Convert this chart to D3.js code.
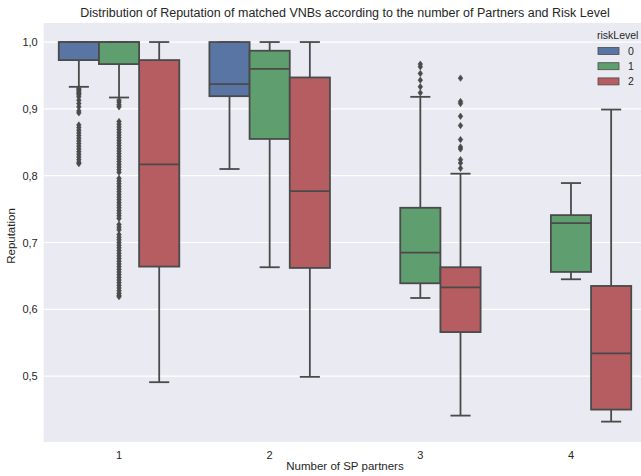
<!DOCTYPE html>
<html>
<head>
<meta charset="utf-8">
<script src="https://cdn.jsdelivr.net/npm/d3@7/dist/d3.min.js"></script>
<style>
  html, body { margin: 0; padding: 0; background: #ffffff; }
  svg { display: block; font-family: "Liberation Sans", Arial, sans-serif; }
</style>
</head>
<body>
<div id="chart"></div>
<script>
// ---------------- DATA ----------------
const categories = ["1", "2", "3", "4"];
const riskLevels = ["0", "1", "2"];
const riskColors = ["#5875a4", "#5f9e6e", "#b55d60"];
const yTicks = [0.5, 0.6, 0.7, 0.8, 0.9, 1.0];
const yTickLabels = ["0,5", "0,6", "0,7", "0,8", "0,9", "1,0"];

// box statistics per category (rows) and risk level (columns); null = no data
const whiskerLow  = [[0.933, 0.917, 0.491], [0.810, 0.663, 0.499], [null, 0.617, 0.441], [null, 0.645, 0.432]];
const q1          = [[0.973, 0.967, 0.664], [0.919, 0.855, 0.662], [null, 0.639, 0.566], [null, 0.656, 0.450]];
const medians     = [[1.000, 1.000, 0.817], [0.937, 0.960, 0.777], [null, 0.685, 0.633], [null, 0.729, 0.534]];
const q3          = [[1.000, 1.000, 0.973], [1.000, 0.987, 0.947], [null, 0.752, 0.663], [null, 0.741, 0.635]];
const whiskerHigh = [[1.000, 1.000, 1.000], [1.000, 1.000, 1.000], [null, 0.918, 0.803], [null, 0.789, 0.899]];

// outliers per (category, riskLevel)
const outliers1_0 = [0.931, 0.929, 0.927, 0.925, 0.923, 0.921, 0.918, 0.913, 0.908, 0.903, 0.897, 0.894,
  0.876, 0.872, 0.868, 0.864, 0.860, 0.856, 0.852, 0.848, 0.844, 0.840, 0.836, 0.832, 0.828, 0.824, 0.820, 0.818];
const outliers1_1 = [0.913, 0.910, 0.906, 0.903,
  0.881, 0.877, 0.873, 0.869, 0.865, 0.861, 0.857, 0.853, 0.849, 0.845, 0.841, 0.837, 0.833, 0.829, 0.825,
  0.821, 0.817, 0.813, 0.809, 0.805, 0.796, 0.792, 0.788, 0.784, 0.780, 0.776, 0.772, 0.768, 0.764, 0.760,
  0.756, 0.752, 0.748, 0.744, 0.740, 0.736, 0.727, 0.723, 0.719, 0.712, 0.708, 0.704, 0.700, 0.696, 0.692,
  0.688, 0.684, 0.680, 0.676, 0.672, 0.668, 0.664, 0.660, 0.656, 0.652, 0.648, 0.644, 0.640, 0.636, 0.632,
  0.628, 0.624, 0.621, 0.619];
const outliers3_1 = [0.924, 0.933, 0.943, 0.953, 0.963, 0.967];
const outliers3_2 = [0.946, 0.911, 0.908, 0.889, 0.875, 0.854, 0.843, 0.840, 0.824, 0.819, 0.811];
const outlierGroups = [
  ["1", 0, outliers1_0],
  ["1", 1, outliers1_1],
  ["3", 1, outliers3_1],
  ["3", 2, outliers3_2]
];

// ---------------- LAYOUT ----------------
const W = 641, H = 476;
const plot = { left: 43.7, right: 646.3, top: 23, bottom: 442 };
const lineColor = "#4a4a4a";
const textColor = "#262626";

const svg = d3.select("#chart").append("svg").attr("width", W).attr("height", H);

const x = d3.scaleBand().domain(categories).range([plot.left, plot.right]).paddingInner(0).paddingOuter(0);
const y = d3.scaleLinear().domain([0.4015, 1.0285]).range([plot.bottom, plot.top]);
const hueW = x.bandwidth() * 0.8 / riskLevels.length;
const hx = (ci, hi) => x(categories[ci]) + x.bandwidth() / 2 + (hi - (riskLevels.length - 1) / 2) * hueW;

// background
svg.append("rect").attr("x", plot.left).attr("y", plot.top)
  .attr("width", plot.right - plot.left).attr("height", plot.bottom - plot.top)
  .attr("fill", "#eaeaf2");

// gridlines
svg.append("g").selectAll("line").data(yTicks).join("line")
  .attr("x1", plot.left).attr("x2", plot.right)
  .attr("y1", d => y(d)).attr("y2", d => y(d))
  .attr("stroke", "#ffffff").attr("stroke-width", 1.2);

// axes
const yAxis = d3.axisLeft(y).tickValues(yTicks).tickFormat((d, i) => yTickLabels[i]).tickSize(0).tickPadding(6);
const gy = svg.append("g").attr("transform", `translate(${plot.left},0)`).call(yAxis);
gy.select(".domain").remove();
gy.selectAll("text").attr("fill", textColor).style("font-size", "11px").style("font-family", "Liberation Sans, Arial, sans-serif");

const xAxis = d3.axisBottom(x).tickSize(0).tickPadding(9);
const gx = svg.append("g").attr("transform", `translate(0,${plot.bottom})`).call(xAxis);
gx.select(".domain").remove();
gx.selectAll("text").attr("fill", textColor).style("font-size", "11px").style("font-family", "Liberation Sans, Arial, sans-serif");

// boxes
const boxes = [];
categories.forEach((c, ci) => riskLevels.forEach((r, hi) => {
  if (medians[ci][hi] === null) return;
  boxes.push({ ci, hi, lo: whiskerLow[ci][hi], q1: q1[ci][hi], med: medians[ci][hi], q3: q3[ci][hi], hi2: whiskerHigh[ci][hi] });
}));

const gb = svg.append("g");
const bw = hueW;
boxes.forEach(b => {
  const cx = hx(b.ci, b.hi);
  const g = gb.append("g");
  g.append("line").attr("x1", cx).attr("x2", cx).attr("y1", y(b.q1)).attr("y2", y(b.lo))
    .attr("stroke", lineColor).attr("stroke-width", 1.8);
  g.append("line").attr("x1", cx).attr("x2", cx).attr("y1", y(b.q3)).attr("y2", y(b.hi2))
    .attr("stroke", lineColor).attr("stroke-width", 1.8);
  [b.lo, b.hi2].forEach(v => {
    g.append("line").attr("x1", cx - bw / 4).attr("x2", cx + bw / 4).attr("y1", y(v)).attr("y2", y(v))
      .attr("stroke", lineColor).attr("stroke-width", 1.8);
  });
  g.append("rect").attr("x", cx - bw / 2).attr("y", y(b.q3))
    .attr("width", bw).attr("height", Math.max(0, y(b.q1) - y(b.q3)))
    .attr("fill", riskColors[b.hi]).attr("stroke", lineColor).attr("stroke-width", 1.8);
  g.append("line").attr("x1", cx - bw / 2).attr("x2", cx + bw / 2).attr("y1", y(b.med)).attr("y2", y(b.med))
    .attr("stroke", lineColor).attr("stroke-width", 1.8);
});

// outliers (thin diamonds)
const diamond = "M0,-3.2L2.3,0L0,3.2L-2.3,0Z";
outlierGroups.forEach(([c, hi, vals]) => {
  const cx = hx(categories.indexOf(c), hi);
  gb.append("g").selectAll("path").data(vals).join("path")
    .attr("d", diamond)
    .attr("transform", v => `translate(${cx},${y(v)})`)
    .attr("fill", lineColor).attr("stroke", lineColor).attr("stroke-width", 0.6);
});

// title
svg.append("text").attr("x", (plot.left + plot.right) / 2).attr("y", 17)
  .attr("text-anchor", "middle").attr("fill", textColor)
  .style("font-size", "12.5px").text("Distribution of Reputation of matched VNBs according to the number of Partners and Risk Level");

// axis labels
svg.append("text").attr("x", (plot.left + plot.right) / 2).attr("y", 470)
  .attr("text-anchor", "middle").attr("fill", textColor).style("font-size", "11.5px")
  .text("Number of SP partners");
svg.append("text").attr("transform", `translate(15,236) rotate(-90)`)
  .attr("text-anchor", "middle").attr("fill", textColor).style("font-size", "11.5px")
  .text("Reputation");

// legend
const leg = svg.append("g").attr("transform", "translate(597,0)");
leg.append("text").attr("x", 0).attr("y", 39).attr("fill", textColor).style("font-size", "10.5px").text("riskLevel");
riskLevels.forEach((r, i) => {
  const yy = 51 + i * 15.2;
  leg.append("rect").attr("x", 1).attr("y", yy - 3.5).attr("width", 21).attr("height", 7)
    .attr("fill", riskColors[i]).attr("stroke", lineColor).attr("stroke-width", 0.8);
  leg.append("text").attr("x", 31).attr("y", yy + 4).attr("fill", textColor).style("font-size", "10.5px").text(r);
});
</script>
</body>
</html>
